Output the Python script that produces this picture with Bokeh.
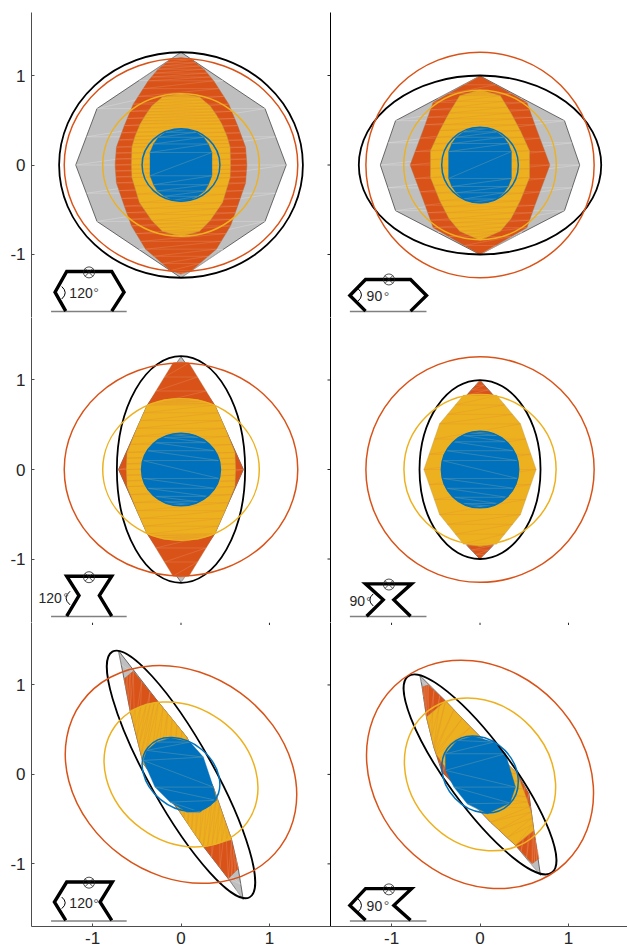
from bokeh.plotting import figure
from bokeh.layouts import column, row
from bokeh.models import Range1d, FixedTicker
from bokeh.core.properties import value
from bokeh.embed import file_html
from bokeh.resources import INLINE
import math

GRAY, ORANGE, YELLOW, BLUE = "#BFBFBF", "#D95319", "#EDB120", "#0072BD"
TICKS = [-1, 0, 1]
TICK_LABELS = {-1: "-1", 0: "0", 1: "1"}

# right-hand halves of the left/right symmetric polygons (top to bottom)
P1_GRAY = ([0, .95, 1.19, .95, 0], [1.26, .63, 0, -.63, -1.26])
P1_ORANGE = ([0, .12, .26, .37, .54, .64, .73, .745, .73, .64, .56, .40, .12, 0],
             [1.2, 1.18, 1.07, .94, .68, .44, .2, 0, -.2, -.46, -.68, -.94, -1.18, -1.22])
P1_YELLOW = ([0, .21, .33, .40, .46, .52, .555, .56, .555, .47, .33, .21, 0],
             [.795, .76, .66, .56, .46, .32, .2, 0, -.14, -.42, -.62, -.74, -.8])
P1_BLUE = ([0, .08, .17, .256, .31, .35, .35, .31, .27, .19, .09, 0],
           [.405, .40, .365, .31, .235, .14, -.12, -.22, -.29, -.35, -.395, -.41])

P2_GRAY = ([0, .955, 1.127, .955, 0], [.995, .495, 0, -.51, -1.0])
P2_ORANGE = ([0, .53, .62, .79, .62, .53, 0], [.995, .70, .45, 0, -.45, -.70, -1.0])
P2_YELLOW = ([0, .23, .35, .455, .56, .56, .455, .35, .23, 0],
             [.84, .775, .58, .385, .16, -.14, -.40, -.60, -.74, -.84])
P2_BLUE = ([0, .09, .19, .27, .32, .355, .355, .32, .27, .19, .09, 0],
           [.42, .41, .37, .31, .24, .15, -.15, -.24, -.31, -.38, -.415, -.425])

P3_GRAY = ([0, .38, .705, .38, 0], [1.26, .72, 0, -.72, -1.26])
P3_ORANGE = ([0, .09, .38, .705, .38, .09, 0], [1.2, 1.19, .72, 0, -.72, -1.19, -1.2])
P3_YELLOW = ([0, .2, .384, .50, .61, .618, .61, .50, .384, .2, 0],
             [.79, .78, .72, .46, .19, 0, -.19, -.46, -.72, -.78, -.79])
P3_BLUE = ([.03, .12, .2, .3, .38, .43, .43, .38, .3, .2, .12, .03],
           [.40, .39, .36, .30, .21, .1, -.1, -.21, -.30, -.36, -.39, -.40])

P4_GRAY = ([0, .145, .145, 0], [.995, .835, -.85, -1.0])
P4_ORANGE = ([0, .145, .145, 0], [.995, .835, -.85, -1.0])
P4_YELLOW = ([0, .19, .457, .634, .457, .19, 0], [.838, .827, .51, 0, -.503, -.83, -.86])
P4_BLUE = ([.03, .12, .2, .3, .38, .425, .425, .38, .3, .2, .12, .03],
           [.42, .41, .38, .31, .21, .1, -.1, -.21, -.31, -.38, -.41, -.42])

# whole polygons of the two lower panels
P5_GRAY = ([-.708, -.256, .064, .365, .572, .648, .704, .535, .252, -.011, -.426, -.576, -.644],
           [1.385, .808, .417, -.142, -.73, -1.054, -1.40, -1.166, -.804, -.421, .119, .715, 1.069])
P5_ORANGE = ([-.644, -.539, -.256, .064, .365, .572, .648, .535, .252, -.011, -.426, -.576],
             [1.069, 1.155, .808, .417, -.142, -.73, -1.054, -1.166, -.804, -.421, .119, .715])
P5_YELLOW = ([-.576, -.39, -.256, -.1, .064, .2, .365, .47, .572, .4, .252, .12, -.011, -.2, -.426, -.5],
             [.715, .79, .808, .62, .417, .16, -.142, -.44, -.73, -.78, -.804, -.62, -.421, -.12, .119, .42])
P5_BLUE = ([-.124, .102, .252, .365, .403, .215, .064, -.124, -.294, -.426, -.388, -.275],
           [.41, .361, .194, -.142, -.29, -.421, -.421, -.309, -.142, .156, .268, .361])

P6_GRAY = ([-.68, -.39, -.107, .42, .552, .608, .684, .401, .119, -.428, -.522, -.605, -.654],
           [1.106, .82, .529, .007, -.216, -.626, -1.129, -.793, -.533, .026, .305, .641, .976])
P6_ORANGE = ([-.654, -.586, -.39, -.107, .42, .552, .608, .665, .589, .401, .119, -.428, -.522, -.605],
             [.976, 1.002, .82, .529, .007, -.216, -.626, -.942, -1.0, -.793, -.533, .026, .305, .641])
P6_YELLOW = ([-.605, -.39, -.107, .42, .52, .578, .608, .401, .119, -.3, -.40, -.49, -.522],
             [.641, .82, .529, .007, -.25, -.42, -.626, -.793, -.533, -.09, .09, .22, .305])
P6_BLUE = ([-.088, .156, .288, .401, .34, .081, -.145, -.295, -.39, -.39, -.258],
           [.428, .361, .231, -.142, -.32, -.44, -.328, -.142, .045, .231, .38])

# ellipses: full width, full height, angle in degrees
P1_ELLIPSES = ([2.756, 2.64, 1.77, .88], [2.52, 2.38, 1.594, .81], [0, 0, 0, 0])
P2_ELLIPSES = ([2.74, 2.58, 1.724, .866], [2.0, 2.52, 1.67, .846], [0, 0, 0, 0])
P3_ELLIPSES = ([1.45, 2.64, 1.77, .892], [2.532, 2.38, 1.58, .81], [0, 0, 0, 0])
P4_ELLIPSES = ([1.368, 2.58, 1.72, .874], [2.0, 2.52, 1.676, .856], [0, 0, 0, 0])
P5_ELLIPSES = ([3.18, 2.778, 1.848, .964], [.72, 2.254, 1.50, .724], [-60.8, -36, -36.1, -39.6])
P6_ELLIPSES = ([2.75, 2.78, 1.856, .944], [.716, 2.324, 1.552, .774], [-53.8, -46, -46.8, -46])
ELLIPSE_COLORS = ["black", ORANGE, YELLOW, BLUE]

# hinge figures in the lower left corners
P1_LEGS = ([-1.303, -1.424, -1.292, -.783, -.644, -.783], [-1.633, -1.421, -1.19, -1.19, -1.421, -1.633])
P2_LEGS = ([-1.294, -1.471, -1.294, -.785, -.605, -.785], [-1.633, -1.458, -1.279, -1.279, -1.458, -1.633])
P3_LEGS = ([-1.292, -1.153, -1.292, -.783, -.923, -.783], [-1.639, -1.408, -1.192, -1.192, -1.408, -1.639])
P4_LEGS = ([-1.282, -1.094, -1.294, -.774, -.974, -.785], [-1.639, -1.456, -1.277, -1.277, -1.456, -1.639])
P5_LEGS = ([-1.303, -1.431, -1.292, -.776, -.915, -.783], [-1.631, -1.426, -1.203, -1.203, -1.426, -1.631])
P6_LEGS = ([-1.294, -1.471, -1.294, -.774, -.974, -.785], [-1.631, -1.464, -1.277, -1.277, -1.464, -1.631])

P_GROUND = [(-1.469, -.614, -1.637), (-1.471, -.605, -1.637), (-1.469, -.614, -1.642),
            (-1.471, -.605, -1.642), (-1.469, -.614, -1.639), (-1.471, -.605, -1.639)]
P_HINGE = [(-1.04, -1.2), (-1.03, -1.279), (-1.04, -1.203), (-1.03, -1.285), (-1.04, -1.21), (-1.03, -1.285)]
# arc start x, control x, y top, y bottom
P_ARC = [(-1.348, -1.27, -1.358, -1.497), (-1.38, -1.30, -1.38, -1.523), (-1.254, -1.345, -1.36, -1.512),
         (-1.207, -1.285, -1.389, -1.524), (-1.348, -1.27, -1.371, -1.5), (-1.38, -1.30, -1.389, -1.539)]
ANGLE_LABELS = ["120", "90", "120", "90", "120", "90"]
ANGLE_POS = [(-1.262, -1.428), (-1.282, -1.466), (-1.612, -1.434), (-1.475, -1.471), (-1.262, -1.434), (-1.282, -1.472)]
DEGREE_POS = [(-.96, -1.435), (-1.056, -1.477), (-1.3, -1.438), (-1.256, -1.475), (-.96, -1.445), (-1.056, -1.475)]

FONT = value("Liberation Sans")
AX_DARK = "#4d4d4d"
TEXT = "#262626"
X_LEFT = Y_TOP = (-1.69, 1.69)
X_RIGHT = (-1.69, 1.667)
Y_ROWS = [(-1.704, 1.704), (-1.709, 1.698), (-1.70, 1.698)]


def mirror(half):
    xs, ys = half
    lx = [-x for x in reversed(xs) if x != 0]
    ly = [y for x, y in zip(reversed(xs), reversed(ys)) if x != 0]
    return list(xs) + lx, list(ys) + ly


def zigzag(poly, parts=3):
    # thin seams of the filled mesh, running between opposite outline stations
    xs, ys = poly
    sx, sy = [], []
    n = len(xs)
    for i in range(n):
        j = (i + 1) % n
        for k in range(parts):
            sx.append(xs[i] + (xs[j] - xs[i]) * k / parts)
            sy.append(ys[i] + (ys[j] - ys[i]) * k / parts)
    n = len(sx)
    out = []
    for i in range(n // 2 + 1):
        out.append(i)
        out.append(n - 1 - i)
    return [sx[i] for i in out], [sy[i] for i in out]


def no_ticks(ax, color):
    ax.ticker = FixedTicker(ticks=[])
    ax.minor_tick_line_color = None
    ax.major_tick_line_color = None
    ax.axis_line_color = color


def label_axis(ax, standoff):
    ax.ticker = FixedTicker(ticks=TICKS)
    ax.major_label_overrides = TICK_LABELS
    ax.major_tick_in = 3
    ax.major_tick_out = 0
    ax.minor_tick_in = 0
    ax.minor_tick_out = 0
    ax.major_label_standoff = standoff
    ax.major_label_text_font = "Liberation Sans"
    ax.major_label_text_font_size = "17px"
    ax.major_label_text_color = TEXT
    ax.axis_line_color = AX_DARK
    ax.major_tick_line_color = AX_DARK


def make_panel(idx, polys, ellipses, legs, fill_blue, col, row_i):
    xr = X_LEFT if col == 0 else X_RIGHT
    yr = Y_ROWS[row_i]
    p = figure(output_backend="svg", toolbar_location=None,
               frame_width=299 if col == 0 else 297,
               frame_height=304 if row_i == 2 else 305,
               x_range=Range1d(*xr), y_range=Range1d(*yr),
               min_border_left=31 if col == 0 else 0, min_border_right=0,
               min_border_top=12 if row_i == 0 else 0,
               min_border_bottom=20 if row_i == 2 else 0,
               background_fill_color="white", border_fill_color=None)
    p.grid.visible = False
    p.outline_line_color = None

    if col == 0:
        label_axis(p.yaxis[0], 6)
    else:
        no_ticks(p.yaxis[0], "black")
    if row_i == 2:
        label_axis(p.xaxis[0], 5)
    else:
        no_ticks(p.xaxis[0], "black")

    # inward ticks on the shared edges
    if col == 0:
        inset = 3.0 / 88.5
        p.segment(x0=[xr[1]] * 3, x1=[xr[1] - inset] * 3, y0=TICKS, y1=TICKS,
                  line_color="#262626", line_width=1)
    if row_i == 2:
        inset = 2.5 / 89.5
        p.segment(x0=TICKS, x1=TICKS, y0=[yr[1]] * 3, y1=[yr[1] - inset] * 3,
                  line_color="#262626", line_width=1)

    gray, orange, yellow, blue = polys
    p.patch(*gray, fill_color=GRAY, line_color="#333333", line_width=0.7)
    p.line(*zigzag(gray, 2), line_color="white", line_alpha=0.45, line_width=0.5)
    p.patch(*orange, fill_color=ORANGE, line_color="#b06a40", line_width=0.4)
    p.line(*zigzag(orange), line_color="#eda27e", line_alpha=0.55, line_width=0.5)
    p.patch(*yellow, fill_color=YELLOW, line_color="#b99a50", line_width=0.4)
    p.line(*zigzag(yellow), line_color="#e08c2c", line_alpha=0.6, line_width=0.5)
    if fill_blue:
        i = 3
        p.ellipse([0], [0], width=[ellipses[0][i]], height=[ellipses[1][i]],
                  fill_color=BLUE, line_color=None)
    p.patch(*blue, fill_color=BLUE, line_color=BLUE, line_width=0.4)
    p.line(*zigzag(blue, 1), line_color="#6a9aa6", line_alpha=0.8, line_width=0.6)

    w, h, a = ellipses
    lw = [1.8, 1.5, 1.5, 1.5]
    for i in range(4):
        p.ellipse([0], [0], width=[w[i]], height=[h[i]], angle=[math.radians(a[i])],
                  fill_color=None, line_color=ELLIPSE_COLORS[i], line_width=lw[i])

    gx0, gx1, gy = P_GROUND[idx]
    p.line([gx0, gx1], [gy, gy], line_color="#808080", line_width=1.4)
    p.line(*legs, line_color="black", line_width=3.4, line_join="miter")
    hx, hy = P_HINGE[idx]
    p.scatter([hx], [hy], marker="circle_x", size=11, fill_color=None, line_color="#222222", line_width=0.8)
    ax0, cx, ay0, ay1 = P_ARC[idx]
    p.quadratic(x0=[ax0], y0=[ay0], x1=[ax0], y1=[ay1], cx=[cx], cy=[(ay0 + ay1) / 2],
                line_color="black", line_width=1)
    tx, ty = ANGLE_POS[idx]
    p.text([tx], [ty], text=[ANGLE_LABELS[idx]], text_font=FONT, text_font_size="14px",
           text_baseline="middle", text_align="left", text_color=TEXT)
    dx, dy = DEGREE_POS[idx]
    p.text([dx], [dy], text=["°"], text_font=FONT, text_font_size="14px",
           text_baseline="alphabetic", text_align="center", text_color="#555555")
    return p


panels = [
    ((P1_GRAY, P1_ORANGE, P1_YELLOW, P1_BLUE), P1_ELLIPSES, P1_LEGS, False),
    ((P2_GRAY, P2_ORANGE, P2_YELLOW, P2_BLUE), P2_ELLIPSES, P2_LEGS, False),
    ((P3_GRAY, P3_ORANGE, P3_YELLOW, P3_BLUE), P3_ELLIPSES, P3_LEGS, True),
    ((P4_GRAY, P4_ORANGE, P4_YELLOW, P4_BLUE), P4_ELLIPSES, P4_LEGS, True),
]
figs = []
for i, (polys, ell, legs, fb) in enumerate(panels):
    figs.append(make_panel(i, [mirror(q) for q in polys], ell, legs, fb, i % 2, i // 2))
figs.append(make_panel(4, (P5_GRAY, P5_ORANGE, P5_YELLOW, P5_BLUE), P5_ELLIPSES, P5_LEGS, False, 0, 2))
figs.append(make_panel(5, (P6_GRAY, P6_ORANGE, P6_YELLOW, P6_BLUE), P6_ELLIPSES, P6_LEGS, False, 1, 2))

layout = column(row(figs[0], figs[1], spacing=0), row(figs[2], figs[3], spacing=0),
                row(figs[4], figs[5], spacing=0), spacing=0)
open("out.html", "w").write(file_html(layout, INLINE))
